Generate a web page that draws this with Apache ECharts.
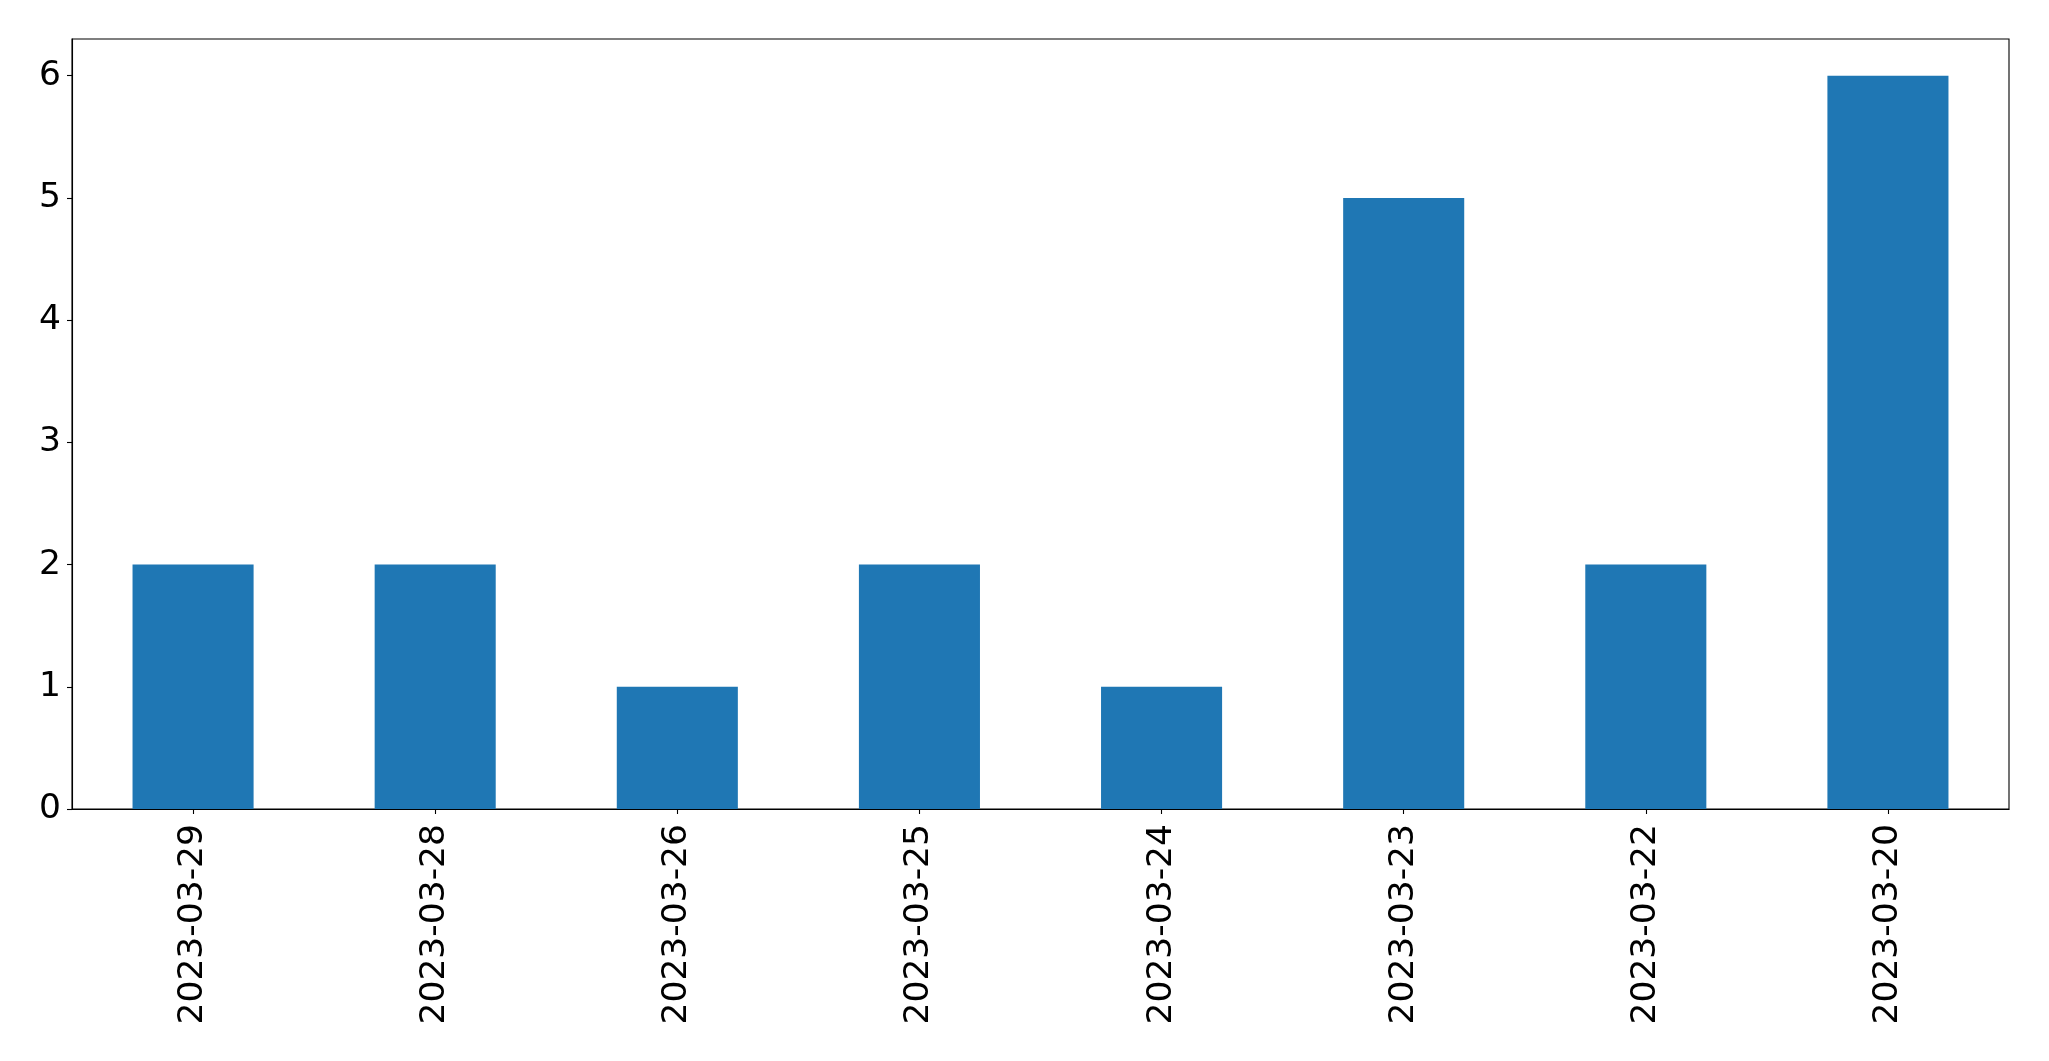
<!DOCTYPE html>
<html>
<head>
<meta charset="utf-8">
<script src="https://cdn.jsdelivr.net/npm/echarts@6/dist/echarts.min.js"></script>
<style>
html,body{margin:0;padding:0;background:#fff;}
#chart{width:2049px;height:1061px;}
</style>
</head>
<body>
<div id="chart"></div>
<script>
const categories = ["2023-03-29","2023-03-28","2023-03-26","2023-03-25","2023-03-24","2023-03-23","2023-03-22","2023-03-20"];
const values = [2,2,1,2,1,5,2,6];
const yTicks = [0,1,2,3,4,5,6];

const chart = echarts.init(document.getElementById('chart'), null, {renderer:'canvas'});
const font = 'DejaVu Sans';
chart.setOption({
  animation: false,
  backgroundColor: '#ffffff',
  grid: {left:72, top:39, width:1937, height:770, containLabel:false, show:true, borderColor:'#000', borderWidth:1.1, backgroundColor:'transparent'},
  xAxis: {
    type:'category', data: categories, boundaryGap:true,
    axisLine:{show:true, lineStyle:{color:'#000', width:1.1}},
    axisTick:{show:true, alignWithLabel:true, length:5, lineStyle:{color:'#000', width:1.1}},
    axisLabel:{rotate:90, margin:15, fontSize:34.5, fontFamily:font, color:'#000', interval:0},
    splitLine:{show:false}
  },
  yAxis: {
    type:'value', min:0, max:6.3,
    axisLine:{show:true, lineStyle:{color:'#000', width:1.1}},
    axisTick:{show:true, length:5, lineStyle:{color:'#000', width:1.1}, customValues: yTicks},
    axisLabel:{fontSize:34.5, fontFamily:font, color:'#000', margin:11, customValues: yTicks},
    splitLine:{show:false}
  },
  series: [{
    type:'bar', data: values, barWidth:'50%',
    itemStyle:{color:'#1f77b4'}
  }]
});
</script>
</body>
</html>
